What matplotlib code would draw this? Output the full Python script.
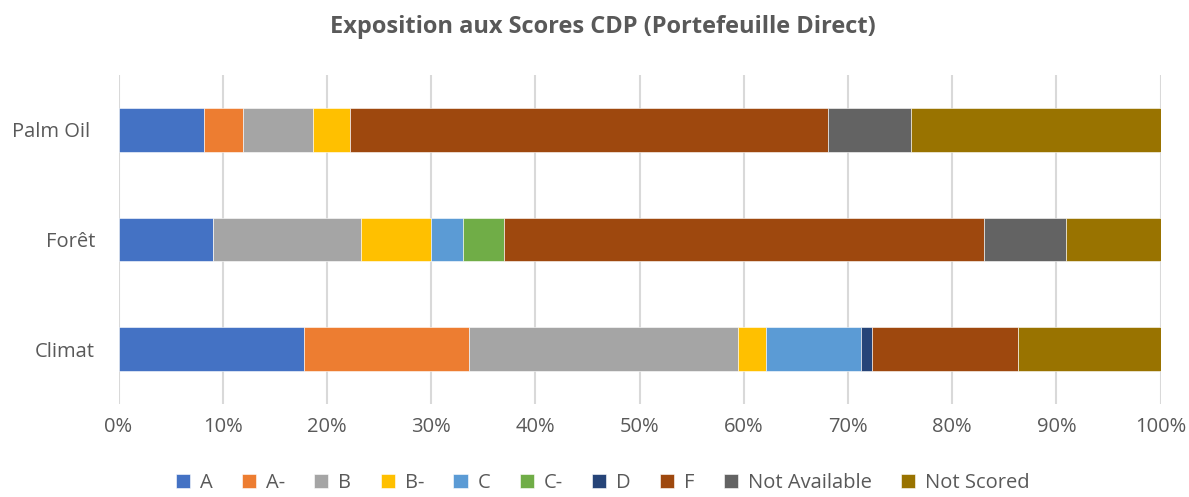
import numpy as np
import matplotlib.pyplot as plt
from matplotlib.ticker import PercentFormatter

# ----------- DATA -----------
categories = ["Palm Oil ", "Forêt", "Climat"]
series_names = ["A", "A-", "B", "B-", "C", "C-", "D", "F", "Not Available", "Not Scored"]
colors = ["#4472C4", "#ED7D31", "#A5A5A5", "#FFC000", "#5B9BD5",
          "#70AD47", "#264478", "#9E480E", "#636363", "#997300"]

# shares in % per category (Palm Oil, Forêt, Climat)
score_a = [8.2, 9.1, 17.8]
score_a_minus = [3.7, 0.0, 15.8]
score_b = [6.8, 14.2, 25.8]
score_b_minus = [3.5, 6.7, 2.7]
score_c = [0.0, 3.1, 9.1]
score_c_minus = [0.0, 3.9, 0.0]
score_d = [0.0, 0.0, 1.1]
score_f = [45.9, 46.0, 14.0]
not_available = [7.9, 7.9, 0.0]
not_scored = [24.0, 9.1, 13.7]

series = [score_a, score_a_minus, score_b, score_b_minus, score_c,
          score_c_minus, score_d, score_f, not_available, not_scored]

# ----------- PLOT -----------
plt.rcParams["font.family"] = ["Open Sans", "DejaVu Sans"]
text_col = "#595959"

fig = plt.figure(figsize=(11.89, 4.97), dpi=100)
ax = fig.add_axes([0.0997, 0.187, 0.8765, 0.662])

y = np.arange(len(categories))
left = np.zeros(len(categories))
for name, vals, col in zip(series_names, series, colors):
    vals = np.array(vals)
    ax.barh(y, vals, left=left, height=0.4, color=col, label=name,
            edgecolor="white", linewidth=0.4, zorder=3)
    left += vals

ax.set_xlim(0, 100)
ax.set_ylim(2.5, -0.5)
ax.set_yticks(y)
ax.set_yticklabels(categories)
ax.set_xticks(np.arange(0, 101, 10))
ax.xaxis.set_major_formatter(PercentFormatter(decimals=0))
ax.tick_params(axis="both", length=0, labelsize=14.5, colors=text_col)
ax.tick_params(axis="x", pad=9)
ax.tick_params(axis="y", pad=17)
ax.grid(axis="x", color="#D9D9D9", linewidth=1.5, zorder=0)
for s in ax.spines.values():
    s.set_visible(False)

fig.suptitle("Exposition aux Scores CDP (Portefeuille Direct)", x=0.507, y=0.97,
             fontsize=17, fontweight="bold", color=text_col)

leg = fig.legend(loc="lower center", bbox_to_anchor=(0.507, -0.028), ncol=10,
                 frameon=False, fontsize=14.5, handlelength=0.7, handleheight=0.7,
                 handletextpad=0.5, columnspacing=1.45)
for t in leg.get_texts():
    t.set_color(text_col)

plt.savefig("out.png", dpi=100)
plt.close()
